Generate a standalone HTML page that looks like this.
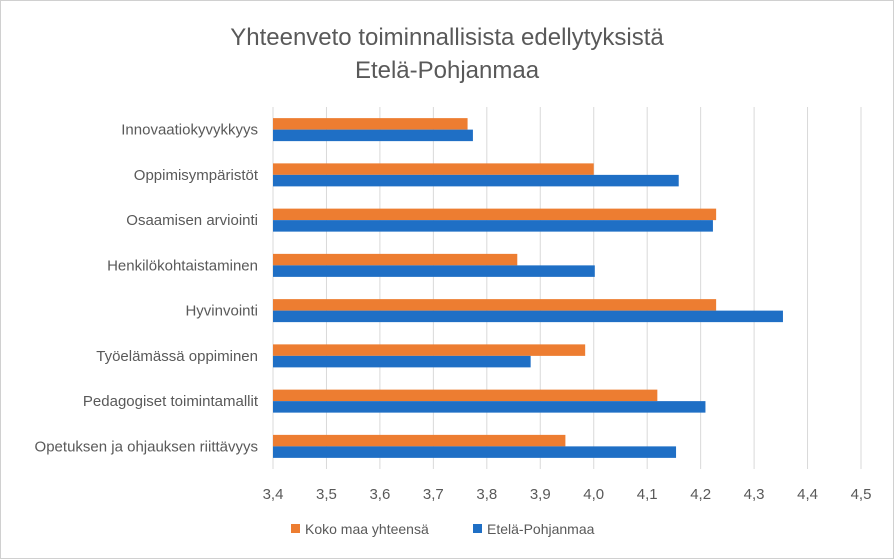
<!DOCTYPE html>
<html><head><meta charset="utf-8"><style>
body{margin:0;background:#fff;font-family:"Liberation Sans",sans-serif;}
#wrap{position:relative;width:894px;height:559px;overflow:hidden;}
</style></head><body>
<div id="wrap">
<svg id="svg" width="894" height="559" xmlns="http://www.w3.org/2000/svg">
<rect x="0.5" y="0.5" width="893" height="558" fill="#fff" stroke="#d0d0d0"/>
<text x="447" y="45" text-anchor="middle" font-size="24" fill="#595959">Yhteenveto toiminnallisista edellytyksistä</text>
<text x="447" y="78" text-anchor="middle" font-size="24" fill="#595959">Etelä-Pohjanmaa</text>
<g id="grid"></g><g id="bars"></g><g id="labels"></g><g id="ticks"></g>
<g>
<rect x="291" y="524" width="9" height="9" fill="#ed7d31"/>
<text x="305" y="534" font-size="14" fill="#595959">Koko maa yhteensä</text>
<rect x="473" y="524" width="9" height="9" fill="#1f6fc5"/>
<text x="487" y="534" font-size="14" fill="#595959">Etelä-Pohjanmaa</text>
</g>
</svg>
</div>
<script>
const categories=["Innovaatiokyvykkyys","Oppimisympäristöt","Osaamisen arviointi","Henkilökohtaistaminen","Hyvinvointi","Työelämässä oppiminen","Pedagogiset toimintamallit","Opetuksen ja ohjauksen riittävyys"];
const kokoMaa=[3.764,4.0,4.229,3.857,4.229,3.984,4.119,3.947];
const etelaPohjanmaa=[3.774,4.159,4.223,4.002,4.354,3.882,4.209,4.154];
const tickValues=[3.4,3.5,3.6,3.7,3.8,3.9,4.0,4.1,4.2,4.3,4.4,4.5];
const tickLabels=["3,4","3,5","3,6","3,7","3,8","3,9","4,0","4,1","4,2","4,3","4,4","4,5"];
const NS="http://www.w3.org/2000/svg";
const x0=273,x1=861,vmin=3.4,vmax=4.5,plotTop=107,plotBottom=469;
function xs(v){return x0+(v-vmin)/(vmax-vmin)*(x1-x0);}
const band=(plotBottom-plotTop)/categories.length;
function yc(i){return plotTop+band*(i+0.5);}
function mk(tag,attrs,parent){const e=document.createElementNS(NS,tag);for(const k in attrs)e.setAttribute(k,attrs[k]);document.getElementById(parent).appendChild(e);return e;}
tickValues.forEach((v,i)=>{
  const l=mk('line',{x1:xs(v),x2:xs(v),y1:plotTop,y2:plotBottom,stroke:'#d9d9d9','stroke-width':1},'grid');
  
  
  const t=mk('text',{x:xs(v),y:499,'text-anchor':'middle','font-size':15,fill:'#595959'},'ticks');
  t.textContent=tickLabels[i];
  
  
});
categories.forEach((c,i)=>{
  const y=yc(i);
  const o=mk('rect',{x:xs(vmin),y:y-11.5,width:xs(kokoMaa[i])-xs(vmin),height:11.5,fill:'#ed7d31'},'bars');
  
  
  const b=mk('rect',{x:xs(vmin),y:y,width:xs(etelaPohjanmaa[i])-xs(vmin),height:11.5,fill:'#1f6fc5'},'bars');
  
  
  const t=mk('text',{x:258,y:y+5,'text-anchor':'end','font-size':15,fill:'#595959'},'labels');
  t.textContent=c;
  
  
});
</script>
</body></html>
